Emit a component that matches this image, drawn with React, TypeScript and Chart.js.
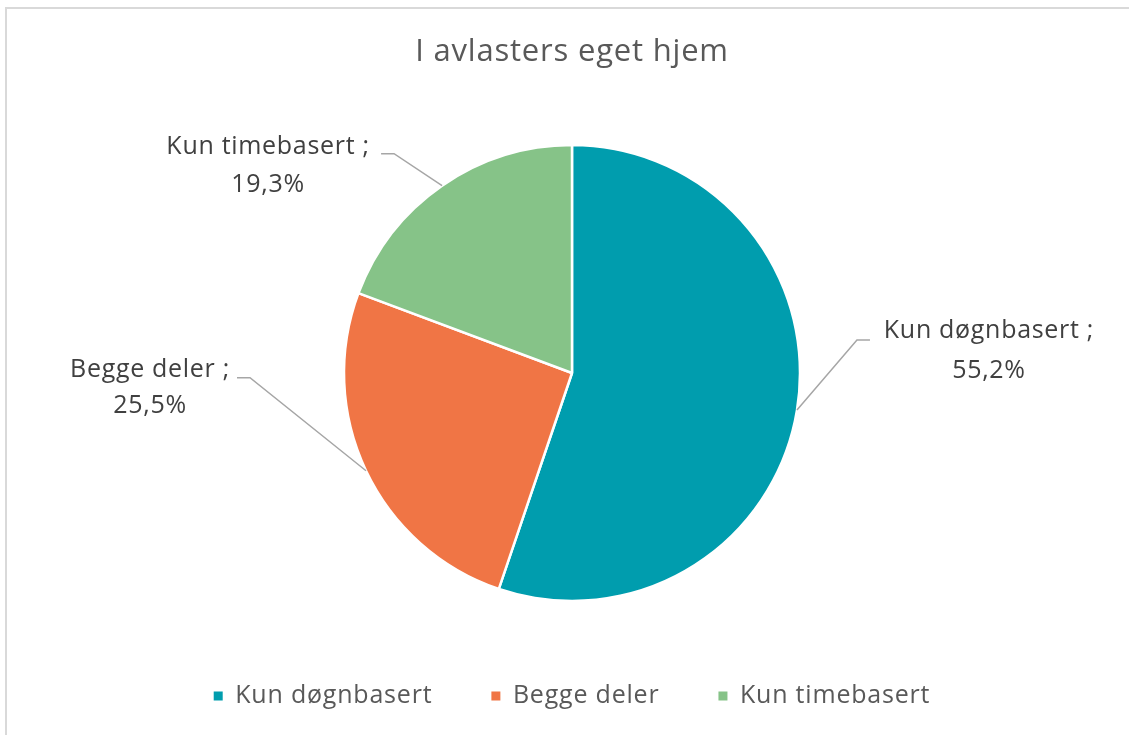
import React, { useEffect, useRef } from "react";
import { Chart, registerables } from "chart.js";

Chart.register(...registerables);

const titleText = "I avlasters eget hjem";
const categories = ["Kun døgnbasert", "Begge deler", "Kun timebasert"];
const values = [55.2, 25.5, 19.3];
const valueLabels = ["55,2%", "25,5%", "19,3%"];
const sliceColors = ["#009DAE", "#F07545", "#86C388"];

const FONT = "'Open Sans'";
const SPACING = "0.8px";

// leader line layout, relative to the slice's outer edge at its mid angle
const labelLayout = [
  { elbow: [60, -70], end: [73, -70], text: [192, -72, -32] },
  { elbow: [-116, -93], end: [-129, -93], text: [-216, -94, -58] },
  { elbow: [-48, -32], end: [-61, -32], text: [-174, -32, 6] },
];

const spacingPlugin = {
  id: "letterSpacing",
  beforeLayout(chart: any) {
    chart.ctx.letterSpacing = SPACING;
  },
  beforeDraw(chart: any) {
    chart.ctx.letterSpacing = SPACING;
  },
};

const leaderPlugin = {
  id: "leaderLabels",
  afterDatasetsDraw(chart: any) {
    const ctx = chart.ctx;
    const meta = chart.getDatasetMeta(0);
    meta.data.forEach((arc: any, i: number) => {
      const p = arc.getProps(["x", "y", "startAngle", "endAngle", "outerRadius"], true);
      const mid = (p.startAngle + p.endAngle) / 2;
      const ex = p.x + Math.cos(mid) * p.outerRadius;
      const ey = p.y + Math.sin(mid) * p.outerRadius;
      const L = labelLayout[i];
      ctx.save();
      ctx.strokeStyle = "#A6A6A6";
      ctx.lineWidth = 1.5;
      ctx.beginPath();
      ctx.moveTo(ex, ey);
      ctx.lineTo(ex + L.elbow[0], ey + L.elbow[1]);
      ctx.lineTo(ex + L.end[0], ey + L.end[1]);
      ctx.stroke();
      ctx.fillStyle = "#404040";
      ctx.font = `25px ${FONT}`;
      ctx.letterSpacing = "0.7px";
      ctx.textAlign = "center";
      ctx.textBaseline = "alphabetic";
      ctx.fillText(categories[i] + " ;", ex + L.text[0], ey + L.text[1]);
      ctx.fillText(valueLabels[i], ex + L.text[0], ey + L.text[2]);
      ctx.restore();
    });
  },
};

export default function App() {
  const canvasRef = useRef<HTMLCanvasElement | null>(null);

  useEffect(() => {
    if (!canvasRef.current) return;
    const chart = new Chart(canvasRef.current, {
      type: "pie",
      data: {
        labels: categories,
        datasets: [
          {
            data: values,
            backgroundColor: sliceColors,
            borderColor: "#FFFFFF",
            borderWidth: 2.5,
            radius: 228,
          } as any,
        ],
      },
      options: {
        animation: false,
        responsive: true,
        maintainAspectRatio: false,
        layout: { padding: { left: 15, right: 0, top: 0, bottom: 16.5 } },
        plugins: {
          title: {
            display: true,
            text: titleText,
            color: "#595959",
            font: { family: FONT, size: 31, weight: "normal" },
            padding: { top: 33.4, bottom: 50.9 },
          },
          legend: {
            position: "bottom",
            labels: {
              boxWidth: 9,
              boxHeight: 9,
              padding: 59,
              color: "#595959",
              font: { family: FONT, size: 25 },
              generateLabels(chart: any) {
                const items = Chart.overrides.pie.plugins.legend.labels.generateLabels(chart);
                return items.map((it: any) => ({ ...it, lineWidth: 0 }));
              },
            },
          },
          tooltip: { enabled: false },
        },
      } as any,
      plugins: [spacingPlugin, leaderPlugin],
    });
    return () => chart.destroy();
  }, []);

  return (
    <div style={{ position: "fixed", left: 0, top: 0, width: 1129, height: 735, background: "#fff", overflow: "hidden" }}>
      <div
        style={{
          position: "absolute",
          left: 5,
          top: 7,
          width: 1200,
          height: 800,
          border: "2px solid #D9D9D9",
          boxSizing: "border-box",
        }}
      />
      <div style={{ position: "absolute", left: 0, top: 0, width: 1129, height: 735 }}>
        <canvas ref={canvasRef} />
      </div>
    </div>
  );
}
